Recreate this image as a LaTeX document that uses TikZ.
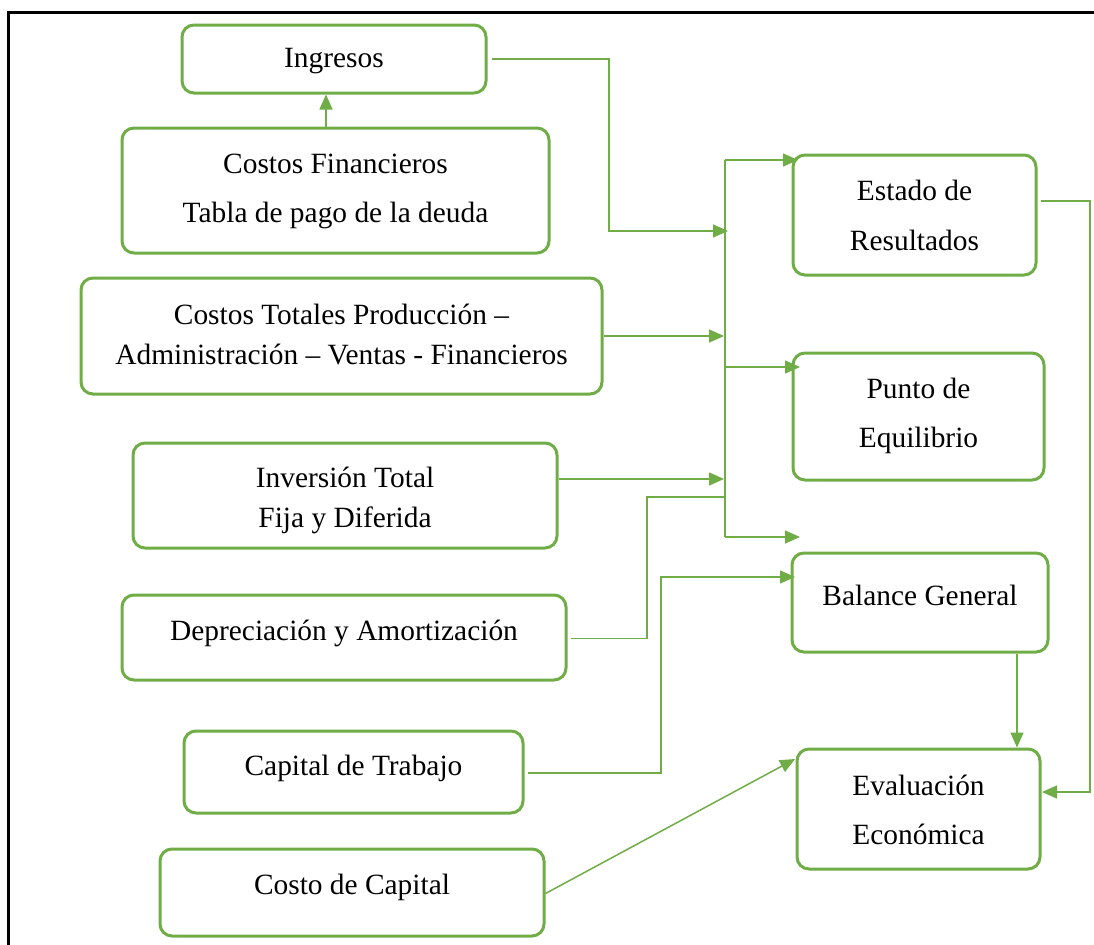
\documentclass[tikz,border=0pt]{standalone}
\usepackage{fontspec}
\setmainfont{Liberation Serif}
\usetikzlibrary{arrows.meta,calc,fit}
\definecolor{gr}{HTML}{70AD47}
\begin{document}
\begin{tikzpicture}[x=0.5pt,y=-0.5pt,
  box/.style={draw=gr, line width=1.5pt, rounded corners=6pt, inner sep=0pt},
  lbl/.style={font=\fontsize{14.7}{17}\selectfont, inner sep=0pt, anchor=base},
  conn/.style={draw=gr, line width=0.75pt},
  arr/.style={conn, -{Triangle[length=7.5pt,width=6.5pt]}}]
\useasboundingbox (0,0) rectangle (1094,944);
\clip (0,0) rectangle (1094,944);
\fill[white] (0,0) rectangle (1094,944);
% frame
\draw[black, line width=1.5pt] (8,1100) -- (8,12) -- (1200,12);

% boxes
\node[box, fit={(182,25) (486,93)}] (ing) {};
\node[box, fit={(122,128) (549,253)}] (cf) {};
\node[box, fit={(81,278) (602,394)}] (ct) {};
\node[box, fit={(133,443) (557,548)}] (inv) {};
\node[box, fit={(122,595) (566,680)}] (dep) {};
\node[box, fit={(184,731) (523,813)}] (cap) {};
\node[box, fit={(160,849) (544,936)}] (cc) {};
\node[box, fit={(793,155) (1036,275)}] (er) {};
\node[box, fit={(793,353) (1044,480)}] (pe) {};
\node[box, fit={(792,553) (1048,652)}] (bg) {};
\node[box, fit={(797,749) (1040,869)}] (ee) {};

% labels
\node[lbl] (t1) at (334,67) {Ingresos};
\node[lbl] (t2) at (335.5,173) {Costos Financieros};
\node[lbl] (t3) at (335.5,222) {Tabla de pago de la deuda};
\node[lbl] (t4) at (341.5,324) {Costos Totales Producción –};
\node[lbl] (t5) at (341.5,364) {Administración – Ventas - Financieros};
\node[lbl] (t6) at (345,487) {Inversión Total};
\node[lbl] (t7) at (345,527) {Fija y Diferida};
\node[lbl] (t8) at (344,640) {Depreciación y Amortización};
\node[lbl] (t9) at (353.5,775) {Capital de Trabajo};
\node[lbl] (t10) at (352,894) {Costo de Capital};
\node[lbl] (t11) at (914.5,200) {Estado de};
\node[lbl] (t12) at (914.5,250) {Resultados};
\node[lbl] (t13) at (918.5,398) {Punto de};
\node[lbl] (t14) at (918.5,447) {Equilibrio};
\node[lbl] (t15) at (920,605) {Balance General};
\node[lbl] (t16) at (918.5,795) {Evaluación};
\node[lbl] (t17) at (918.5,844) {Económica};

% bus coordinates
\coordinate (btop) at (725,160);
\coordinate (bmid) at (725,367);
\coordinate (bbot) at (725,537);
\coordinate (bdep) at (725,497);
\coordinate (nfree) at (800,537);

% connectors
\draw[arr] ($(cf.north)+(-9.5,0)$) -- ($(ing.south)+(-8,0)$);
\draw[arr] ($(ing.east)+(4,0)$) -- (609,59) -- (609,231) -- (728,231);
\draw[arr] (ct.east) -- (724,336);
\draw[arr] ($(inv.east)+(0,-16.5)$) -- (724,479);
\draw[conn] ($(dep.east)+(3,1)$) -- (647,638.5) -- (647,497) -- (bdep);
\draw[conn] (btop) -- (bbot);
\draw[arr] (btop) -- (798,160);
\draw[arr] (bmid) -- (800,367);
\draw[arr] (bbot) -- (nfree);
\draw[arr] ($(cap.east)+(3,1)$) -- (661,773) -- (661,577) -- (795,577);
\draw[arr] ($(cc.east)+(0,1)$) -- (795,759);
\draw[arr] ($(bg.south)+(97,0)$) -- ($(ee.north)+(98.5,0)$);
\draw[arr] ($(er.east)+(3,-14)$) -- (1090,201) -- (1090,792) -- (1042,792);
\end{tikzpicture}
\end{document}
